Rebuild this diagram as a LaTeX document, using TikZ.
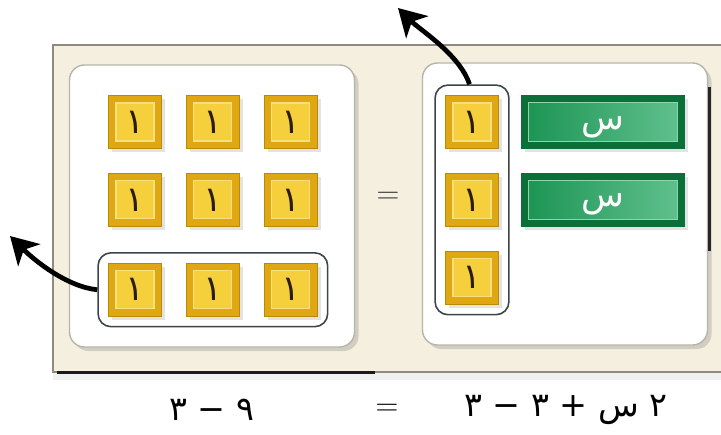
\documentclass[tikz,border=0pt]{standalone}
\usepackage{fontspec}
\usepackage{xcolor}
\usepackage{tikz}
\usetikzlibrary{arrows.meta,positioning,fit,backgrounds,shadows,calc}
\newfontfamily\arabicfont[Script=Arabic]{DejaVu Sans}
\TeXXeTstate=1
\definecolor{matbeige}{HTML}{F4EFDE}
\definecolor{matrim}{HTML}{8E8A7E}
\definecolor{panelrim}{HTML}{B9B4AA}
\definecolor{tilegold}{HTML}{DFA812}
\definecolor{tileedge}{HTML}{B98A06}
\definecolor{tileface}{HTML}{F5CF3C}
\definecolor{tilerim}{HTML}{F8E07E}
\definecolor{tileink}{HTML}{2B1C06}
\definecolor{bardark}{HTML}{0A6F38}
\definecolor{barleft}{HTML}{1A9352}
\definecolor{barright}{HTML}{62C290}
\definecolor{barrim}{HTML}{8FD4AC}
\definecolor{ringgray}{HTML}{3C454D}
\definecolor{signgray}{HTML}{3A3A3A}

\begin{document}
\begin{tikzpicture}[
    x=0.2mm, y=-0.2mm,
    node distance=4.8mm and 4.8mm,
    tile/.style={rectangle, minimum size=10.6mm, inner sep=0pt, fill=tilegold, draw=tileedge,
                 line width=0.5pt, text=tileink, font=\arabicfont\fontsize{20}{20}\selectfont,
                 drop shadow={opacity=0.22, shadow xshift=0.7mm, shadow yshift=-0.7mm},
                 path picture={\draw[fill=tileface, draw=tilerim, line width=0.6pt]
                     ([shift={(1.5mm,1.5mm)}]path picture bounding box.south west) rectangle
                     ([shift={(-1.5mm,-1.5mm)}]path picture bounding box.north east);}},
    bar/.style={rectangle, minimum width=32.6mm, minimum height=10.6mm, inner sep=0pt,
                text height=2.8mm, text depth=0mm,
                fill=bardark, draw=bardark, text=white, font=\arabicfont\fontsize{20}{20}\selectfont,
                drop shadow={opacity=0.22, shadow xshift=0.7mm, shadow yshift=-0.7mm},
                path picture={\shadedraw[left color=barleft, right color=barright, draw=barrim, line width=0.6pt]
                    ([shift={(1.4mm,1.4mm)}]path picture bounding box.south west) rectangle
                    ([shift={(-1.4mm,-1.4mm)}]path picture bounding box.north east);}},
    panel/.style={rectangle, rounded corners=3mm, fill=white, draw=panelrim, line width=0.8pt,
                  minimum width=57mm, minimum height=56.4mm,
                  drop shadow={opacity=0.3, shadow xshift=0.8mm, shadow yshift=-0.8mm}},
    ring/.style={rectangle, rounded corners=2.6mm, draw=ringgray, line width=0.9pt, inner sep=2mm},
    bigarrow/.style={-{Stealth[length=5.4mm, width=6.2mm, inset=1.5mm]}, line width=2.7pt, black},
    sign/.style={font=\fontsize{18}{18}\selectfont, text=signgray},
    eqtext/.style={font=\arabicfont\fontsize{19}{19}\selectfont, text=black},
]
\useasboundingbox (0,0) rectangle (721,435);

% ── Mat ─────────────────────────────────────────────────────────────────
\fill[matbeige, draw=matrim, line width=0.6pt,
      drop shadow={opacity=0.12, shadow xshift=0mm, shadow yshift=-1.5mm}] (53,45) rectangle (726,372);
\draw[line width=0.6mm, black!90] (57,372) -- (375,372);

% ── Two sides of the mat ────────────────────────────────────────────────
\node[panel] (leftpan)  at (212,206) {};
\node[panel] (rightpan) at (565,204) {};
\draw[line width=0.6mm, black!85]
    ($(rightpan.north east)+(1,25)$) -- ($(rightpan.north east)+(1,189)$);

% ── Left side: nine unit tiles ──────────────────────────────────────────
\node[tile] (l1) at (135,122) {١};
\node[tile, right=of l1] (l2) {١};
\node[tile, right=of l2] (l3) {١};
\node[tile, below=of l1] (l4) {١};
\node[tile, right=of l4] (l5) {١};
\node[tile, right=of l5] (l6) {١};
\node[tile, below=7.2mm of l4] (l7) {١};
\node[tile, right=of l7] (l8) {١};
\node[tile, right=of l8] (l9) {١};

% ── Right side: three unit tiles and two x bars ─────────────────────────
\node[tile] (r1) at (472,122) {١};
\node[tile, below=of r1] (r2) {١};
\node[tile, below=of r2] (r3) {١};
\node[bar, right=4.4mm of r1] (x1) {س};
\node[bar, below=of x1]       (x2) {س};

% ── Rings round the removed tiles ───────────────────────────────────────
\node[ring, fit=(l7)(l9)] (ringleft)  {};
\node[ring, fit=(r1)(r3)] (ringright) {};

% ── Arrows taking them off ──────────────────────────────────────────────
\coordinate (uptip)   at (398,8);
\coordinate (lefttip) at (10,236);
\draw[bigarrow] ([xshift=-0.5mm]ringright.north) .. controls +(-10,-30) and +(22,22) .. (uptip);
\draw[bigarrow] (ringleft.west) .. controls +(-30,-3) and +(25,25) .. (lefttip);

% ── Equals between the sides ────────────────────────────────────────────
\node[sign] (midsign) at (388,198) {=};

% ── Equation below ──────────────────────────────────────────────────────
\node[eqtext] (lhs) at (566,410) {\beginR ٢ س + ٣ − ٣\endR};
\node[sign, text=black] (eqsign) at (387,410) {=};
\node[eqtext] (rhs) at (212,410) {\beginR ٩ − ٣\endR};

\end{tikzpicture}
\end{document}
